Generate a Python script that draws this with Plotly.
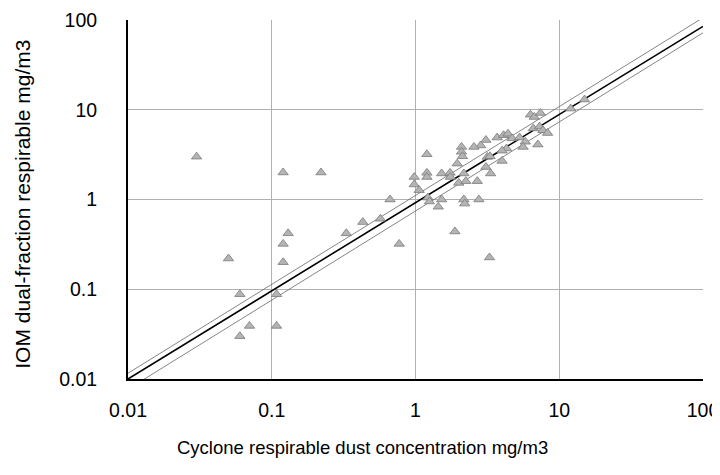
import plotly.graph_objects as go

# cyclone (x) vs IOM dual-fraction (y), mg/m3
cyclone = [0.030, 0.12, 0.22, 0.13, 0.33, 0.05, 0.12, 0.12, 0.06, 0.108, 0.07, 0.06, 0.108,
           0.43, 0.57, 0.77, 0.665, 1.88, 3.27,
           0.98, 0.98, 1.2, 1.2, 1.2, 1.06, 1.22, 1.25, 1.52, 1.52, 1.44, 1.74, 1.75,
           1.95, 2.0, 2.17, 2.24, 2.17, 2.2, 2.76, 2.69, 2.09, 2.09, 2.12,
           3.09, 3.33, 3.16, 3.3, 4.0, 3.09, 2.84, 2.55, 4.3, 4.0, 3.7, 4.1, 4.4, 4.7,
           5.3, 5.8, 5.6, 7.1, 6.3, 6.7, 7.4, 6.6, 7.3, 7.7, 8.3, 12.0, 15.0]
iom = [3.0, 2.0, 2.0, 0.42, 0.42, 0.22, 0.32, 0.20, 0.088, 0.088, 0.039, 0.030, 0.039,
       0.56, 0.61, 0.32, 1.0, 0.44, 0.226,
       1.78, 1.47, 1.98, 1.78, 3.19, 1.27, 1.05, 0.95, 1.95, 1.0, 0.83, 1.98, 1.78,
       2.51, 1.53, 1.95, 1.6, 1.0, 0.9, 1.0, 1.6, 3.85, 3.4, 3.03,
       2.3, 1.95, 2.98, 3.03, 2.69, 4.6, 4.0, 3.85, 3.7, 3.5, 4.9, 5.2, 5.4, 4.8,
       4.9, 4.4, 3.85, 4.1, 8.8, 8.3, 9.2, 6.2, 6.5, 5.9, 5.5, 10.3, 13.0]

# fitted line and limits
line_x = [0.01, 100]
fit_y = [0.01, 85]
upper_y = [0.0116, 106]
lower_y = [0.0077, 72]

tick_vals = [0.01, 0.1, 1, 10, 100]
tick_text = ["0.01", "0.1", "1", "10", "100"]

fig = go.Figure()
fig.add_trace(go.Scatter(x=line_x, y=upper_y, mode="lines",
                         line=dict(color="#666666", width=0.8), hoverinfo="skip"))
fig.add_trace(go.Scatter(x=line_x, y=lower_y, mode="lines",
                         line=dict(color="#666666", width=0.8), hoverinfo="skip"))
fig.add_trace(go.Scatter(x=line_x, y=fit_y, mode="lines",
                         line=dict(color="black", width=1.6), hoverinfo="skip"))
fig.add_trace(go.Scatter(x=cyclone, y=iom, mode="markers",
                         marker=dict(symbol="triangle-up", size=9, color="#b4b4b4",
                                     line=dict(color="#7a7a7a", width=0.8))))

font = "Liberation Sans, Arial, sans-serif"
axis = dict(type="log", tickvals=tick_vals, ticktext=tick_text, automargin=False,
            showgrid=True, gridcolor="#b0b0b0", gridwidth=1,
            showline=True, linecolor="black", linewidth=2, mirror=False,
            zeroline=False, ticks="", tickfont=dict(family=font, size=19.5, color="black"))

# page body has an 8px margin, so the margins below allow for it
fig.update_layout(
    width=720, height=475,
    margin=dict(l=120, r=25, t=12, b=104),
    paper_bgcolor="white", plot_bgcolor="white",
    showlegend=False,
    xaxis=dict(axis, range=[-2, 2], ticklabelstandoff=13),
    yaxis=dict(axis, range=[-2, 2], ticklabelstandoff=25),
    annotations=[
        dict(text="Cyclone respirable dust concentration mg/m3", xref="paper", yref="paper",
             x=0.407, y=-0.19, yanchor="middle", showarrow=False,
             font=dict(family=font, size=18.5, color="black")),
        dict(text="IOM dual-fraction respirable mg/m3", xref="paper", yref="paper",
             x=-0.184, y=0.486, textangle=-90, xanchor="center", showarrow=False,
             font=dict(family=font, size=21, color="black")),
    ],
)

fig.write_html("out.html")
